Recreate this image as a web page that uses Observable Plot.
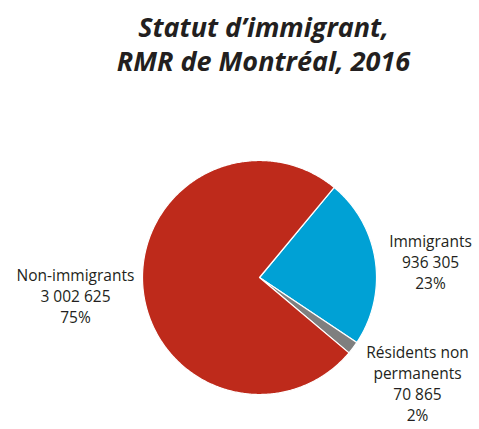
<!DOCTYPE html>
<html><head><meta charset="utf-8">
<script src="https://cdn.jsdelivr.net/npm/d3@7"></script>
<script src="https://cdn.jsdelivr.net/npm/@observablehq/plot@0.6"></script>
<style>body{margin:0;background:#fff}</style>
</head><body><div id="chart"></div>
<script>
const categories = ["Immigrants", "Résidents non permanents", "Non-immigrants"];
const values = [936305, 70865, 3002625];
const percents = ["23%", "2%", "75%"];
const valueLabels = ["936 305", "70 865", "3 002 625"];
const colors = ["#00A1D5", "#7F7F7F", "#BE2A1B"];
const titleLines = ["Statut d\u2019immigrant,", "RMR de Montréal, 2016"];

// layout
const W = 479, H = 429;
const cx = 259, cy = 277, R = 117;
const startDeg = 39.7;
const labelNames = ["Immigrants", "Résidents non\npermanents", "Non-immigrants"];
const labelPos = [[430, 231], [417, 342], [75, 265]];

const pie = d3.pie().sort(null).value(d => d.v)
  .startAngle(startDeg * Math.PI / 180).endAngle((startDeg + 360) * Math.PI / 180);
const arcs = pie(categories.map((c, i) => ({name: c, v: values[i]})));
const pts = [];
for (const a of arcs) {
  const n = Math.max(4, Math.ceil((a.endAngle - a.startAngle) / 0.01));
  pts.push({name: a.data.name, x: cx, y: cy});
  for (let k = 0; k <= n; k++) {
    const t = a.startAngle + (a.endAngle - a.startAngle) * k / n;
    pts.push({name: a.data.name, x: cx + R * Math.sin(t), y: cy - R * Math.cos(t)});
  }
  pts.push({name: a.data.name, x: cx, y: cy});
}
const labels = categories.map((c, i) => ({
  name: c,
  text: `${labelNames[i]}\n${valueLabels[i]}\n${percents[i]}`,
  x: labelPos[i][0], y: labelPos[i][1]
}));
const titles = titleLines.map((t, i) => ({text: t, x: 263, y: 28 + i * 34}));

const chart = Plot.plot({
  width: W, height: H,
  margin: 0,
  x: {domain: [0, W], range: [0, W], axis: null},
  y: {domain: [0, H], range: [0, H], axis: null},
  color: {domain: categories, range: colors},
  style: {fontFamily: "'Open Sans', sans-serif", background: "#fff"},
  marks: [
    Plot.line(pts, {x: "x", y: "y", z: "name", fill: "name", stroke: "white", strokeWidth: 1.2, curve: "linear"}),
    Plot.text(labels, {x: "x", y: "y", text: "text", fontSize: 15.5, lineHeight: 1.37, textAnchor: "middle", fill: "#231F20", lineAnchor: "top"}),
    Plot.text(titles, {x: "x", y: "y", text: "text", fontSize: 27, fontWeight: "bold", fontStyle: "italic", fill: "#231F20", textAnchor: "middle"})
  ]
});
document.getElementById("chart").appendChild(chart);
</script></body></html>
